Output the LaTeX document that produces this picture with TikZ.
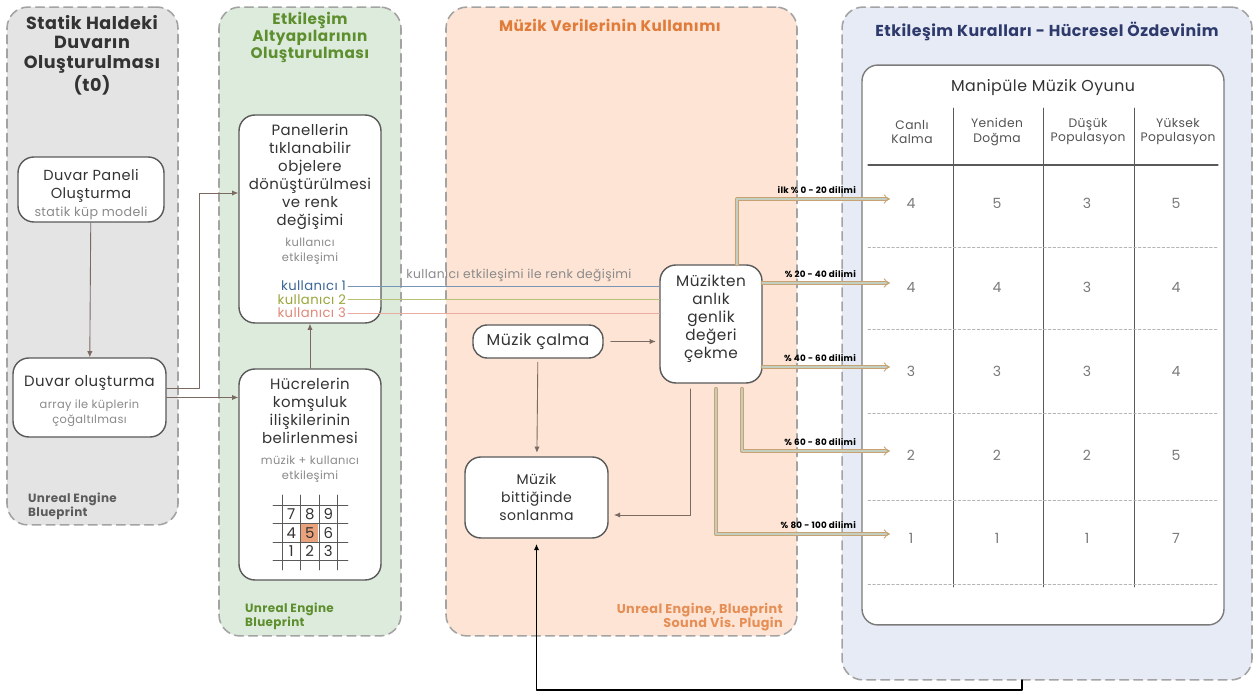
\documentclass[tikz,border=0pt]{standalone}
\usepackage{fontspec}
\setmainfont{Poppins}[LetterSpace=3]
\usetikzlibrary{arrows.meta}
\definecolor{grayfill}{HTML}{E4E4E4}
\definecolor{greenfill}{HTML}{DDEBDC}
\definecolor{orangefill}{HTML}{FDE4D4}
\definecolor{bluefill}{HTML}{E6EBF6}
\definecolor{panelline}{HTML}{A3A3A3}
\definecolor{boxline}{HTML}{5A5A5A}
\definecolor{textdark}{HTML}{333333}
\definecolor{textgray}{HTML}{8A8A8A}
\definecolor{greentitle}{HTML}{5E8F2F}
\definecolor{orangetitle}{HTML}{E07B39}
\definecolor{bluetitle}{HTML}{2E3A6B}
\definecolor{userone}{HTML}{3C6796}
\definecolor{usertwo}{HTML}{9AA53A}
\definecolor{userthree}{HTML}{E08878}
\definecolor{arrline}{HTML}{7A6A62}
\definecolor{bundleout}{HTML}{C9A274}
\definecolor{bundlein}{HTML}{C3CFC0}
\definecolor{gridhi}{HTML}{E9A27C}
\definecolor{numgray}{HTML}{7A7A7A}
\begin{document}
\begin{tikzpicture}[x=0.02cm,y=-0.02cm,>={Latex[length=3.5pt,width=3pt]},line cap=round,line join=round,
	panel/.style={draw=panelline,dash pattern=on 5pt off 3pt,line width=0.9pt,rounded corners=12pt,inner sep=0pt},
	box/.style={draw=boxline,fill=white,line width=0.8pt,rounded corners=9pt,inner sep=0pt},
	ttl/.style={font=\fontsize{9}{11.3}\selectfont\bfseries,align=center},
	txt/.style={font=\fontsize{8}{10.2}\selectfont,text=textdark,align=center},
	sub/.style={font=\fontsize{6.5}{8.5}\selectfont,text=textgray,align=center},
	foot/.style={font=\fontsize{6.8}{8}\selectfont\bfseries,align=left},
	arr/.style={->,draw=arrline,line width=0.5pt},
	bundle/.style={draw=bundleout,double=bundlein,line width=0.5pt,double distance=1.3pt,-{Implies}},
	slice/.style={font=\fontsize{5}{6}\selectfont\bfseries,anchor=south east,inner sep=1pt},
	num/.style={font=\fontsize{8}{10}\selectfont,text=numgray}]
	\useasboundingbox (0,0) rectangle (1255,695);
	% panels
	\node[panel,fill=grayfill,minimum width=3.42cm,minimum height=10.36cm] (statik) at (92.5,266) {};
	\node[panel,fill=greenfill,minimum width=3.64cm,minimum height=12.58cm] (altyapi) at (310,321.5) {};
	\node[panel,fill=orangefill,minimum width=7.02cm,minimum height=12.58cm] (muzik) at (621.5,321.5) {};
	\node[panel,fill=bluefill,minimum width=8.2cm,minimum height=13.46cm] (kural) at (1047,343.5) {};
	\node[ttl,font=\fontsize{10}{11.3}\selectfont\bfseries,text=textdark] (statikbaslik) at (92,55) {Statik Haldeki\\Duvarın\\Oluşturulması\\(t0)};
	\node[ttl,font=\fontsize{8.7}{9.9}\selectfont\bfseries,text=greentitle] (altyapibaslik) at (310,37.5) {Etkileşim\\Altyapılarının\\Oluşturulması};
	\node[ttl,font=\fontsize{8.7}{10}\selectfont\bfseries,text=orangetitle] (muzikbaslik) at (610,25) {Müzik Verilerinin Kullanımı};
	\node[ttl,font=\fontsize{9}{10}\selectfont\bfseries,text=bluetitle] (kuralbaslik) at (1047,31) {Etkileşim Kuralları - Hücresel Özdevinim};
	\node[foot,text=textdark!80,anchor=west] (statikalt) at (22,506) {Unreal Engine\\Blueprint};
	\node[foot,text=greentitle,anchor=west] (altyapialt) at (239,616) {Unreal Engine\\Blueprint};
	\node[foot,font=\fontsize{7.3}{8.3}\selectfont\bfseries,text=orangetitle!85,anchor=east,align=right] (muzikalt) at (789,617) {Unreal Engine, Blueprint\\Sound Vis. Plugin};
	% static wall
	\node[box,minimum width=2.92cm,minimum height=1.3cm] (dpanel) at (91,189.5) {};
	\node[txt,font=\fontsize{8.3}{10.2}\selectfont] at (91,186) {Duvar Paneli\\Oluşturma};
	\node[sub,font=\fontsize{7.2}{8.5}\selectfont] at (91,213) {statik küp modeli};
	\node[box,minimum width=3.06cm,minimum height=1.58cm] (dolus) at (89.5,397.5) {};
	\node[txt,font=\fontsize{8.5}{10.2}\selectfont] at (89.5,383) {Duvar oluşturma};
	\node[sub] at (89.5,413) {array ile küplerin\\çoğaltılması};
	% interaction
	\node[box,minimum width=2.84cm,minimum height=4.16cm] (panel) at (310,219) {};
	\node[txt,font=\fontsize{8.5}{10.2}\selectfont] at (310,177) {Panellerin\\tıklanabilir\\objelere\\dönüştürülmesi\\ve renk\\değişimi};
	\node[sub] at (310,251.5) {kullanıcı\\etkileşimi};
	\node[sub,font=\fontsize{7.5}{8.5}\selectfont,text=userone,anchor=east,inner sep=1pt] (k1) at (348,286) {kullanıcı 1};
	\node[sub,font=\fontsize{7.5}{8.5}\selectfont,text=usertwo,anchor=east,inner sep=1pt] (k2) at (348,299.5) {kullanıcı 2};
	\node[sub,font=\fontsize{7.5}{8.5}\selectfont,text=userthree,anchor=east,inner sep=1pt] (k3) at (348,313) {kullanıcı 3};
	\node[box,minimum width=2.84cm,minimum height=4.22cm] (hucre) at (310,474.5) {};
	\node[txt,font=\fontsize{8.5}{10.2}\selectfont] at (310,411) {Hücrelerin\\komşuluk\\ilişkilerinin\\belirlenmesi};
	\node[sub] at (310,469.5) {müzik + kullanıcı\\etkileşimi};
	\fill[gridhi] (300,523) rectangle (318,542);
	\foreach \i in {0,1,2,3} {
		\draw[boxline,line width=0.5pt] (282+18.5*\i,495) -- (282+18.5*\i,570);
		\draw[boxline,line width=0.5pt] (273,505+18.5*\i) -- (348,505+18.5*\i);
	}
	\foreach \n [count=\k from 0] in {7,8,9,4,5,6,1,2,3} {
		\pgfmathtruncatemacro\c{mod(\k,3)}
		\pgfmathtruncatemacro\r{int(\k/3)}
		\node[font=\fontsize{8.5}{10}\selectfont,text=textdark,inner sep=0pt] (g\n) at (291.25+18.5*\c,514.25+18.5*\r) {\n};
	}
	% music
	\node[box,minimum width=2.04cm,minimum height=2.36cm] (cekme) at (711,324) {};
	\node[txt,font=\fontsize{8.7}{10.2}\selectfont] at (711,318.5) {Müzikten\\anlık\\genlik\\değeri\\çekme};
	\node[box,txt,font=\fontsize{9}{10}\selectfont,rounded corners=8pt,minimum width=2.6cm,minimum height=0.66cm] (calma) at (538,341.5) {Müzik çalma};
	\node[box,txt,minimum width=2.86cm,minimum height=1.62cm] (sonlanma) at (536.5,497.5) {Müzik\\bittiğinde\\sonlanma};
	\node[sub,font=\fontsize{7}{8.5}\selectfont,text=textgray] (renk) at (519,275) {kullanıcı etkileşimi ile renk değişimi};
	% rules table
	\node[box,draw=boxline!80,minimum width=7.24cm,minimum height=11.2cm] (oyun) at (1043,345) {};
	\node[txt,font=\fontsize{9}{11}\selectfont] (oyunbaslik) at (1043,88) {Manipüle Müzik Oyunu};
	\foreach \x/\h in {912/{Canlı\\Kalma},997/{Yeniden\\Doğma},1088/{Düşük\\Populasyon},1178/{Yüksek\\Populasyon}}
		\node[font=\fontsize{7}{8}\selectfont,text=textdark!85,align=center] at (\x,132) {\h};
	\draw[boxline,line width=0.7pt] (868,165) -- (1218,165);
	\foreach \x in {953,1043,1134} \draw[boxline,line width=0.5pt] (\x,108) -- (\x,587);
	\foreach \y in {247,329,413,500,584} \draw[panelline!80,line width=0.4pt,dash pattern=on 1.5pt off 1.2pt] (868,\y) -- (1218,\y);
	\foreach \y/\a/\b/\c/\d/\s [count=\r] in {203/4/5/3/5/{ilk \% 0 - 20 dilimi},287/4/4/3/4/{\% 20 - 40 dilimi},371/3/3/3/4/{\% 40 - 60 dilimi},455/2/2/2/5/{\% 60 - 80 dilimi},538/1/1/1/7/{\% 80 - 100 dilimi}} {
		\node[num] (n\r a) at (911,\y) {\a};
		\node[num] (n\r b) at (997,\y) {\b};
		\node[num] (n\r c) at (1087,\y) {\c};
		\node[num] (n\r d) at (1176,\y) {\d};
		\coordinate (s\r) at (890,\y-4);
		\node[slice] (l\r) at (858,\y-7) {\s};
	}
	% connectors
	\draw[arr] (dpanel) -- (dolus);
	\coordinate (j1) at (199,193);
	\draw[arr] ([yshift=0.18cm]dolus.east) -| (j1) -- (j1 -| panel.west);
	\draw[arr] (dolus.east) -- (dolus.east -| hucre.west);
	\draw[arr] (hucre) -- (panel);
	\draw[userone!70,line width=0.5pt] (k1.east) -- (k1.east -| cekme.west);
	\draw[usertwo!70,line width=0.5pt] (k2.east) -- (k2.east -| cekme.west);
	\draw[userthree!70,line width=0.5pt] (k3.east) -- (k3.east -| cekme.west);
	\draw[arr,shorten <=4pt,shorten >=2pt] (calma.east) -- (calma.east -| cekme.west);
	\draw[arr,shorten <=2pt,shorten >=2pt] (calma) -- (sonlanma);
	\draw[arr,shorten <=3pt,shorten >=3pt] ([xshift=-0.42cm]cekme.south) |- (sonlanma.east |- 0,515);
	\coordinate (kb) at (1022,680);
	\draw[->,black,line width=0.6pt,shorten >=3pt] (kb) -- ++(0,10) -| (sonlanma.south);
	\draw[bundle] ([xshift=0.52cm]cekme.north) |- (s1);
	\draw[bundle] (cekme.east |- s2) -- (s2);
	\draw[bundle] (cekme.east |- s3) -- (s3);
	\draw[bundle,shorten <=3pt] ([xshift=0.62cm]cekme.south) |- (s4);
	\draw[bundle,shorten <=3pt] ([xshift=0.1cm]cekme.south) |- (s5);
\end{tikzpicture}
\end{document}
